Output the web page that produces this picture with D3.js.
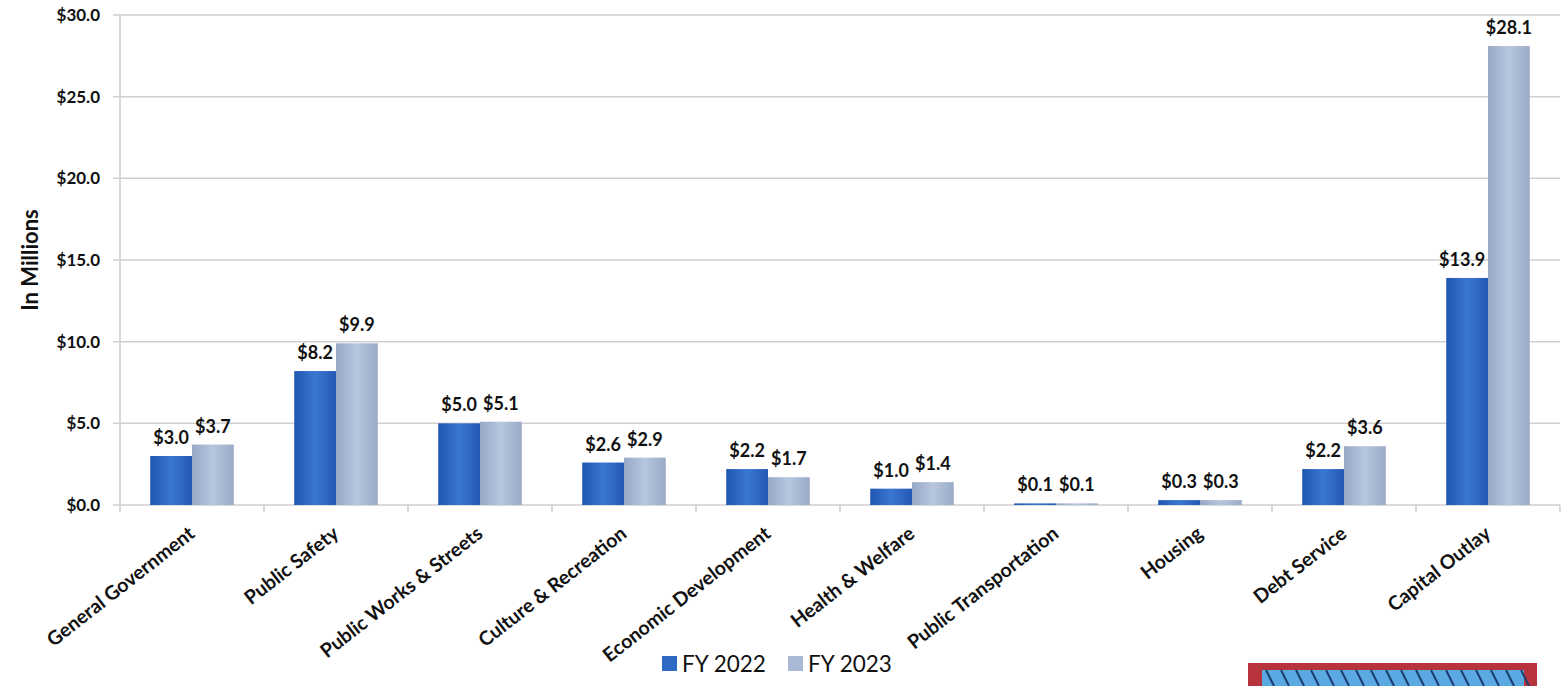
<!DOCTYPE html>
<html>
<head>
<meta charset="utf-8">
<script src="https://cdn.jsdelivr.net/npm/d3@7"></script>
<style>
  html, body { margin: 0; padding: 0; background: #fff; }
  svg { display: block; font-family: Lato, "Open Sans", sans-serif; }
</style>
</head>
<body>
<svg id="chart" width="1564" height="686"></svg>
<script>
const categories = ["General Government", "Public Safety", "Public Works & Streets", "Culture & Recreation",
  "Economic Development", "Health & Welfare", "Public Transportation", "Housing", "Debt Service", "Capital Outlay"];
const fy2022 = [3.0, 8.2, 5.0, 2.6, 2.2, 1.0, 0.1, 0.3, 2.2, 13.9];
const fy2023 = [3.7, 9.9, 5.1, 2.9, 1.7, 1.4, 0.1, 0.3, 3.6, 28.1];
const seriesNames = ["FY 2022", "FY 2023"];
const seriesColors = ["#2f69c6", "#a9b9d5"];
const yTicks = [0, 5, 10, 15, 20, 25, 30];

const svg = d3.select("#chart");
const mLeft = 120, mRight = 1560, mTop = 15, mBottom = 505;

const x = d3.scaleBand().domain(categories).range([mLeft, mRight]).paddingInner(0.42).paddingOuter(0.21);
const xs = d3.scaleBand().domain(seriesNames).range([0, x.bandwidth()]);
const y = d3.scaleLinear().domain([0, 30]).range([mBottom, mTop]);

// gradients
const defs = svg.append("defs");
const grads = [["#1f56b0", "#3a78d2", "#2558b4"], ["#98a9c8", "#b7c6de", "#9aabc9"]];
grads.forEach((g, i) => {
  const lg = defs.append("linearGradient").attr("id", "g" + i).attr("x1", "0").attr("x2", "1").attr("y1", "0").attr("y2", "0");
  lg.append("stop").attr("offset", "0%").attr("stop-color", g[0]);
  lg.append("stop").attr("offset", "50%").attr("stop-color", g[1]);
  lg.append("stop").attr("offset", "100%").attr("stop-color", g[2]);
});

// grid lines
svg.append("g").selectAll("line").data(yTicks).join("line")
  .attr("x1", mLeft - 7).attr("x2", mRight)
  .attr("y1", d => y(d)).attr("y2", d => y(d))
  .attr("stroke", "#cfcfcf").attr("stroke-width", 1.5);

// y axis line
svg.append("line").attr("x1", mLeft).attr("x2", mLeft).attr("y1", mTop).attr("y2", mBottom)
  .attr("stroke", "#cfcfcf").attr("stroke-width", 1.5);

// y tick labels
svg.append("g").selectAll("text").data(yTicks).join("text")
  .attr("x", mLeft - 20).attr("y", d => y(d)).attr("dy", "0.35em")
  .attr("text-anchor", "end").attr("font-size", 17).attr("font-weight", 700).attr("fill", "#111")
  .text(d => "$" + d.toFixed(1));

// y axis title
svg.append("text").attr("transform", `translate(38,${(mTop + mBottom) / 2}) rotate(-90)`)
  .attr("text-anchor", "middle").attr("font-size", 22).attr("font-weight", 700).attr("fill", "#111")
  .text("In Millions");

// x tick marks at category boundaries
const bounds = d3.range(categories.length + 1).map(i => mLeft + i * (mRight - mLeft) / categories.length);
svg.append("g").selectAll("line").data(bounds).join("line")
  .attr("x1", d => d).attr("x2", d => d).attr("y1", mBottom).attr("y2", mBottom + 7)
  .attr("stroke", "#cfcfcf").attr("stroke-width", 1.5);

// bars
const data = categories.map((c, i) => ({ c, vals: [fy2022[i], fy2023[i]] }));
const groups = svg.append("g").selectAll("g").data(data).join("g")
  .attr("transform", d => `translate(${x(d.c)},0)`);
groups.selectAll("rect").data(d => d.vals.map((v, j) => ({ v, j }))).join("rect")
  .attr("x", d => xs(seriesNames[d.j])).attr("width", xs.bandwidth())
  .attr("y", d => y(d.v)).attr("height", d => y(0) - y(d.v))
  .attr("fill", d => `url(#g${d.j})`);
groups.selectAll("text").data(d => d.vals.map((v, j) => ({ v, j }))).join("text")
  .attr("x", d => xs(seriesNames[d.j]) + xs.bandwidth() / 2 + (d.v > 13 && d.j === 0 ? -5 : 0))
  .attr("y", d => y(d.v) - 12)
  .attr("text-anchor", "middle").attr("font-size", 18).attr("font-weight", 700).attr("fill", "#111")
  .text(d => "$" + d.v.toFixed(1));

// x labels
svg.append("g").selectAll("text").data(categories).join("text")
  .attr("transform", d => `translate(${x(d) + x.bandwidth() / 2 + 4},${mBottom + 31}) rotate(-38)`)
  .attr("text-anchor", "end").attr("font-size", 19.5).attr("font-weight", 700).attr("fill", "#111")
  .text(d => d);

// legend
const legend = svg.append("g").attr("transform", "translate(662,664)");
const lx = [0, 126];
seriesNames.forEach((s, i) => {
  legend.append("rect").attr("x", lx[i]).attr("y", -8).attr("width", 15).attr("height", 15).attr("fill", seriesColors[i]);
  legend.append("text").attr("x", lx[i] + 20).attr("y", 0).attr("dy", "0.35em")
    .attr("font-size", 22.5).attr("fill", "#111").text(s);
});

// decorative logo (partially visible at bottom right)
const logo = svg.append("g");
logo.append("rect").attr("x", 1248).attr("y", 663).attr("width", 289).attr("height", 30).attr("fill", "#b8343c");
logo.append("rect").attr("x", 1262).attr("y", 670).attr("width", 262).attr("height", 30).attr("fill", "#5aa9e2");
logo.selectAll("line.l").data(d3.range(18)).join("line")
  .attr("x1", d => 1266 + d * 15).attr("x2", d => 1274 + d * 15)
  .attr("y1", 670).attr("y2", 686).attr("stroke", "#1d3c6e").attr("stroke-width", 2);
</script>
</body>
</html>
